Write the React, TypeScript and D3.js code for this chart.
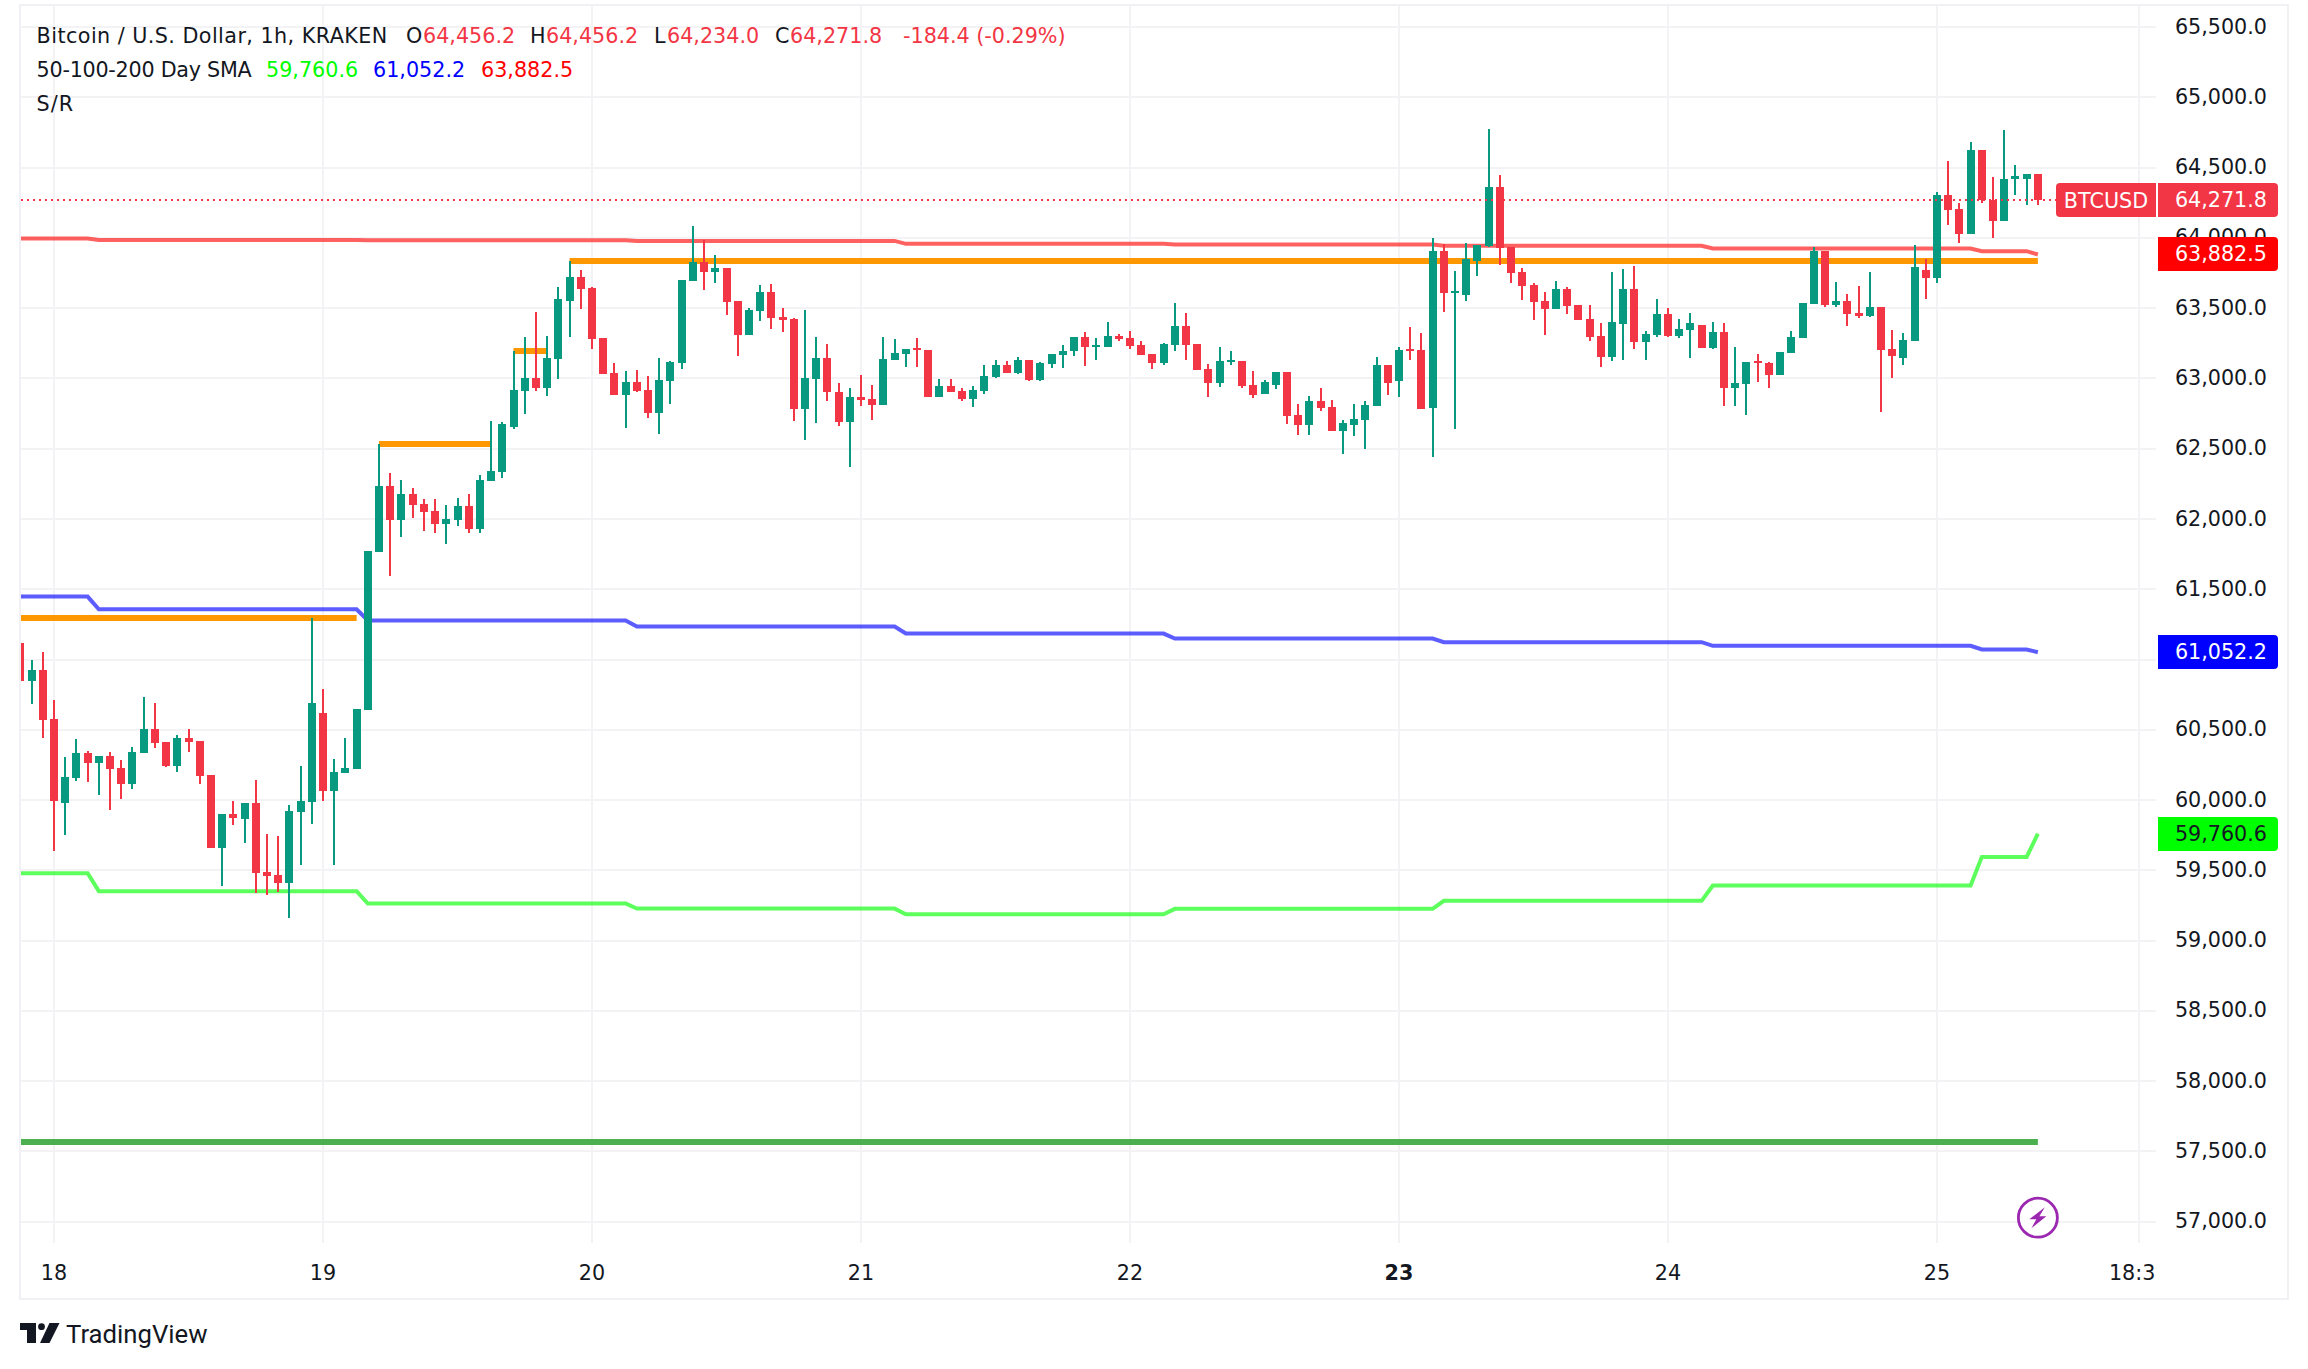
import React from 'react';
import * as d3 from 'd3';

// hourly candles, first one is 21:00 on the 17th, hour 0 is the 18th at 00:00
const firstHour = -3;
const opens = [
  61119, 60848, 60927, 60578, 59980, 60158, 60336, 60265, 60315, 60229,
  60115, 60336, 60507, 60414, 60243, 60443, 60421, 60179, 59660, 59902,
  59866, 59980, 59489, 59468, 59411, 59916, 59987, 60621, 60066, 60194,
  60222, 60642, 61766, 62236, 61994, 62179, 62108, 62058, 61965, 61994,
  62093, 61930, 62271, 62335, 62656, 62912, 63004, 62933, 63140, 63552,
  63723, 63645, 63289, 63040, 62883, 62976, 62919, 62755, 62983, 63111,
  63695, 63830, 63759, 63787, 63552, 63310, 63481, 63616, 63438, 63424,
  62784, 62997, 63147, 62905, 62691, 62869, 62855, 62812, 63132, 63175,
  63218, 63204, 62869, 62947, 62912, 62855, 62912, 63011, 63097, 63040,
  63132, 62990, 63104, 63168, 63196, 63296, 63225, 63225, 63303, 63289,
  63239, 63175, 63111, 63239, 63374, 63246, 63068, 62969, 63118, 63125,
  62955, 62890, 62955, 63047, 62741, 62670, 62841, 62798, 62627, 62670,
  62705, 62805, 63097, 62983, 63211, 63204, 62791, 63908, 63609, 63595,
  63837, 63944, 64364, 63937, 63759, 63667, 63553, 63496, 63638, 63524,
  63425, 63304, 63154, 63389, 63638, 63261, 63311, 63460, 63304, 63346,
  63382, 63218, 63332, 62934, 62962, 63126, 63112, 63026, 63183, 63290,
  63531, 63909, 63524, 63553, 63467, 63446, 63510, 63211, 63147, 63268,
  63773, 63717, 64307, 64208, 64030, 64627, 64272, 64122, 64421, 64421,
  64456.2,
];
const highs = [
  61197, 60998, 61055, 60713, 60307, 60436, 60350, 60315, 60343, 60286,
  60379, 60734, 60692, 60414, 60464, 60507, 60421, 60179, 59902, 59994,
  59980, 60144, 59760, 59745, 59966, 60243, 61297, 60791, 60293, 60443,
  60649, 61773, 62535, 62328, 62279, 62222, 62143, 62143, 62101, 62150,
  62179, 62314, 62698, 62691, 63196, 63296, 63474, 63303, 63652, 63837,
  63773, 63652, 63289, 63111, 63054, 63061, 63019, 63147, 63125, 63702,
  64086, 63986, 63880, 63787, 63552, 63502, 63666, 63673, 63502, 63431,
  63488, 63296, 63246, 62969, 62933, 63026, 62955, 63296, 63282, 63211,
  63289, 63204, 62997, 62997, 62933, 62947, 63097, 63132, 63125, 63154,
  63132, 63118, 63175, 63239, 63296, 63332, 63289, 63403, 63317, 63339,
  63268, 63175, 63253, 63538, 63467, 63246, 63104, 63225, 63196, 63125,
  63054, 62990, 63047, 63047, 62819, 62876, 62933, 62848, 62706, 62819,
  62841, 63154, 63097, 63225, 63367, 63325, 64001, 63958, 63766, 63965,
  63951, 64777, 64449, 63937, 63788, 63681, 63617, 63695, 63652, 63524,
  63524, 63396, 63759, 63781, 63802, 63339, 63567, 63503, 63425, 63467,
  63382, 63403, 63396, 63225, 63119, 63176, 63119, 63190, 63339, 63539,
  63937, 63909, 63688, 63603, 63660, 63759, 63510, 63346, 63325, 63951,
  63852, 64328, 64549, 64250, 64684, 64627, 64435, 64770, 64521, 64456,
  64456.2,
];
const lows = [
  60749, 60685, 60443, 59639, 59752, 60137, 60130, 60037, 59930, 60009,
  60080, 60336, 60372, 60236, 60201, 60343, 60115, 59660, 59389, 59824,
  59695, 59340, 59325, 59347, 59162, 59539, 59831, 59994, 59539, 60194,
  60222, 60642, 61766, 61595, 61873, 62008, 61916, 61901, 61823, 61951,
  61901, 61901, 62271, 62293, 62641, 62748, 62912, 62876, 62997, 63296,
  63495, 63211, 63033, 62883, 62649, 62905, 62720, 62606, 62819, 63068,
  63695, 63631, 63680, 63453, 63161, 63310, 63410, 63353, 63332, 62698,
  62563, 62684, 62841, 62663, 62371, 62805, 62705, 62812, 63132, 63083,
  63083, 62869, 62869, 62905, 62841, 62798, 62890, 63004, 63040, 63033,
  62983, 62983, 63076, 63076, 63161, 63090, 63132, 63225, 63268, 63211,
  63168, 63068, 63097, 63196, 63132, 63061, 62869, 62940, 63097, 62933,
  62862, 62890, 62926, 62677, 62599, 62599, 62770, 62627, 62464, 62592,
  62499, 62805, 62883, 62869, 63132, 62784, 62442, 63474, 62641, 63552,
  63730, 63937, 63809, 63681, 63560, 63418, 63311, 63496, 63460, 63418,
  63268, 63083, 63126, 63133, 63211, 63133, 63297, 63297, 63290, 63147,
  63218, 63211, 62806, 62806, 62742, 62976, 62934, 63026, 63183, 63290,
  63531, 63510, 63510, 63375, 63432, 63439, 62763, 63005, 63097, 63268,
  63567, 63681, 64094, 63966, 64030, 64250, 64001, 64122, 64307, 64236,
  64234,
];
const closes = [
  60848, 60927, 60571, 59994, 60165, 60336, 60265, 60315, 60222, 60115,
  60343, 60507, 60407, 60243, 60443, 60414, 60172, 59660, 59902, 59873,
  59980, 59482, 59461, 59411, 59923, 59994, 60692, 60066, 60201, 60229,
  60649, 61773, 62236, 61994, 62179, 62101, 62051, 61965, 62001, 62093,
  61930, 62279, 62343, 62677, 62919, 63004, 62933, 63147, 63567, 63723,
  63638, 63282, 63033, 62883, 62976, 62912, 62755, 62990, 63118, 63702,
  63830, 63759, 63787, 63545, 63310, 63488, 63616, 63431, 63417, 62784,
  63004, 63147, 62905, 62691, 62869, 62848, 62812, 63140, 63182, 63211,
  63204, 62869, 62947, 62905, 62855, 62919, 63019, 63097, 63040, 63132,
  62990, 63111, 63175, 63196, 63296, 63225, 63239, 63303, 63282, 63232,
  63168, 63111, 63246, 63374, 63239, 63061, 62969, 63125, 63132, 62947,
  62883, 62976, 63047, 62734, 62670, 62841, 62791, 62627, 62684, 62713,
  62812, 63097, 62969, 63204, 63196, 62784, 63908, 63609, 63623, 63851,
  63951, 64364, 63930, 63752, 63660, 63546, 63496, 63638, 63517, 63418,
  63297, 63154, 63403, 63638, 63261, 63318, 63460, 63304, 63354, 63396,
  63218, 63332, 62934, 62969, 63119, 63112, 63026, 63190, 63297, 63539,
  63909, 63524, 63553, 63460, 63446, 63510, 63204, 63161, 63275, 63795,
  63717, 64307, 64200, 64030, 64627, 64272, 64122, 64421, 64442, 64456,
  64271.8,
];

// daily SMAs only move once a day, so they are stored at their break hours
const smaHours = [-3, 3, 4, 27, 28, 51, 52, 75, 76, 99, 100, 123, 124, 147, 148, 171, 172, 176, 177];
const sma50 = [59480, 59480, 59352, 59352, 59264, 59264, 59228, 59228, 59188, 59188, 59226, 59226, 59283, 59283, 59392, 59392, 59596, 59596, 59760.6];
const sma100 = [61448, 61448, 61358, 61358, 61278, 61278, 61235, 61235, 61185, 61185, 61150, 61150, 61124, 61124, 61098, 61098, 61072, 61072, 61052.2];
const sma200 = [63996, 63996, 63986, 63986, 63984, 63984, 63979, 63979, 63958, 63958, 63954, 63954, 63944, 63944, 63925, 63925, 63906, 63906, 63882.5];

// support / resistance levels: [start hour, end hour, price]
const resistance = [
  [-3, 27, 61297],
  [29, 39, 62535],
  [41, 44, 63196],
  [46, 177, 63837],
];
const support = [[-3, 177, 57567]];

const dayTicks = [0, 24, 48, 72, 96, 120, 144, 168, 186];
const dayLabels = ['18', '19', '20', '21', '22', '23', '24', '25', '18:30'];
const priceTicks = d3.range(57000, 65501, 500);
// the 61,052.2 tag sits fully on top of this label
const hiddenPriceLabels = [61000];

const lastPrice = 64271.8;

const UP = '#089981';
const DOWN = '#F23645';
const INK = '#131722';
const GRID = '#F3F3F5';
const FONT = '"DejaVu Sans", sans-serif';
const FS = 20.7;

const paneLeft = 21;
const paneRight = 2156;
const paneBottom = 1243;

const x = d3.scaleLinear().domain([0, 168]).range([54, 1937]);
const y = d3.scaleLinear().domain([57000, 64500]).range([1221.7, 167.7]);
const fmt = d3.format(',.1f');

const smaLine = d3.line<number>()
  .x((d, i) => x(smaHours[i]))
  .y(d => y(d));

function PriceTag({ value, fill, color }: { value: number, fill: string, color: string }) {
  const cy = Math.round(y(value));
  return (
    <g>
      <path d={`M2158 ${cy - 17}H2274a4 4 0 0 1 4 4V${cy + 13}a4 4 0 0 1 -4 4H2158Z`} fill={fill} />
      <text x={2267} y={cy + 7} textAnchor="end" fill={color} fontFamily={FONT} fontSize={FS}>{fmt(value)}</text>
    </g>
  );
}

export default function App() {
  const lastY = Math.round(y(lastPrice));
  return (
    <svg width={2308} height={1369} style={{ position: 'absolute', left: 0, top: 0, background: '#fff' }}>
      <defs>
        <clipPath id="pane"><rect x={paneLeft} y={6} width={paneRight - paneLeft} height={paneBottom - 6} /></clipPath>
        <clipPath id="timeAxis"><rect x={paneLeft} y={paneBottom} width={paneRight - paneLeft} height={50} /></clipPath>
      </defs>

      {/* frame */}
      <rect x={20} y={5} width={2268} height={1294} fill="none" stroke="#F0F0F5" strokeWidth={2} />

      {/* grid */}
      {priceTicks.map(p => (
        <line key={p} x1={paneLeft} x2={paneRight} y1={Math.round(y(p))} y2={Math.round(y(p))} stroke={GRID} strokeWidth={2} />
      ))}
      {dayTicks.map(h => (
        <line key={h} x1={Math.round(x(h))} x2={Math.round(x(h))} y1={6} y2={paneBottom} stroke={GRID} strokeWidth={2} />
      ))}

      <g clipPath="url(#pane)">
        {/* indicator lines */}
        <path d={smaLine(sma200)!} fill="none" stroke="#FF0000" strokeOpacity={0.62} strokeWidth={4} />
        <path d={smaLine(sma100)!} fill="none" stroke="#0000FF" strokeOpacity={0.64} strokeWidth={4} />
        <path d={smaLine(sma50)!} fill="none" stroke="#00FF00" strokeOpacity={0.64} strokeWidth={4} />
        {resistance.map(([a, b, p]) => (
          <rect key={a} x={x(a)} width={x(b) - x(a)} y={Math.round(y(p)) - 3} height={6} fill="#FF9800" />
        ))}
        {support.map(([a, b, p]) => (
          <rect key={a} x={x(a)} width={x(b) - x(a)} y={Math.round(y(p)) - 3} height={6} fill="#4CAF50" />
        ))}

        {/* candles */}
        {opens.map((o, i) => {
          const c = closes[i];
          const cx = Math.round(x(firstHour + i));
          const color = c >= o ? UP : DOWN;
          const top = Math.round(y(Math.max(o, c)));
          const bottom = Math.round(y(Math.min(o, c)));
          const wickTop = Math.round(y(highs[i]));
          const wickBottom = Math.round(y(lows[i]));
          return (
            <g key={i} fill={color}>
              <rect x={cx - 1} width={2} y={wickTop} height={wickBottom - wickTop} />
              <rect x={cx - 4} width={8} y={top} height={Math.max(bottom - top, 2)} />
            </g>
          );
        })}

        {/* last price */}
        <line x1={paneLeft} x2={2056} y1={lastY} y2={lastY} stroke={DOWN} strokeWidth={2} strokeDasharray="2 4" />

        {/* real-time feed badge */}
        <circle cx={x(177)} cy={1217.7} r={19.5} fill="#fff" stroke="#9C27B0" strokeWidth={2.8} />
        <path
          transform={`translate(${x(177)},1217.7)`}
          d="M7 -10.5L-8.5 1.5H-1.5L-6.5 10.5L8.5 -1.5H1.5Z"
          fill="#9C27B0"
        />
      </g>

      {/* time axis */}
      <g clipPath="url(#timeAxis)">
        {dayTicks.map((h, i) => (
          <text
            key={h}
            x={x(h)}
            y={1280}
            textAnchor="middle"
            fill={INK}
            fontFamily={FONT}
            fontSize={FS}
            fontWeight={dayLabels[i] === '23' ? 'bold' : 'normal'}
          >
            {dayLabels[i]}
          </text>
        ))}
      </g>

      {/* price axis */}
      {priceTicks.filter(p => !hiddenPriceLabels.includes(p)).map(p => (
        <text key={p} x={2267} y={y(p) + 6.5} textAnchor="end" fill={INK} fontFamily={FONT} fontSize={FS}>{fmt(p)}</text>
      ))}
      <path d={`M2156 ${lastY - 17}H2060a4 4 0 0 0 -4 4V${lastY + 13}a4 4 0 0 0 4 4H2156Z`} fill={DOWN} />
      <text x={2106} y={lastY + 7.5} textAnchor="middle" fill="#fff" fontFamily={FONT} fontSize={FS}>BTCUSD</text>
      <PriceTag value={lastPrice} fill={DOWN} color="#fff" />
      <PriceTag value={63882.5} fill="#FF0000" color="#fff" />
      <PriceTag value={61052.2} fill="#0000FF" color="#fff" />
      <PriceTag value={59760.6} fill="#00FF00" color={INK} />

      {/* legend */}
      <g fontFamily={FONT} fontSize={FS} fill={INK}>
        <text x={36.6} y={43} letterSpacing={0.45}>Bitcoin / U.S. Dollar, 1h, KRAKEN</text>
        <text x={406} y={43}>O</text>
        <text x={423} y={43} fill={DOWN}>64,456.2</text>
        <text x={530} y={43}>H</text>
        <text x={546} y={43} fill={DOWN}>64,456.2</text>
        <text x={654} y={43}>L</text>
        <text x={667} y={43} fill={DOWN}>64,234.0</text>
        <text x={775} y={43}>C</text>
        <text x={790} y={43} fill={DOWN}>64,271.8</text>
        <text x={903} y={43} fill={DOWN}>-184.4 (-0.29%)</text>
        <text x={36.6} y={77} letterSpacing={-0.25}>50-100-200 Day SMA</text>
        <text x={266} y={77} fill="#00FF00">59,760.6</text>
        <text x={373} y={77} fill="#0000FF">61,052.2</text>
        <text x={481} y={77} fill="#FF0000">63,882.5</text>
        <text x={36.6} y={111} letterSpacing={1}>S/R</text>
      </g>

      {/* logo */}
      <g fill={INK}>
        <path d="M20 1323H36V1343H27V1330H20Z" />
        <circle cx={41.5} cy={1326.7} r={3.4} />
        <path d="M49.5 1323H59.5L49.5 1343H40Z" />
      </g>
      <text x={66} y={1343} fill={INK} fontFamily="Roboto, sans-serif" fontSize={25.7}>TradingView</text>
    </svg>
  );
}
